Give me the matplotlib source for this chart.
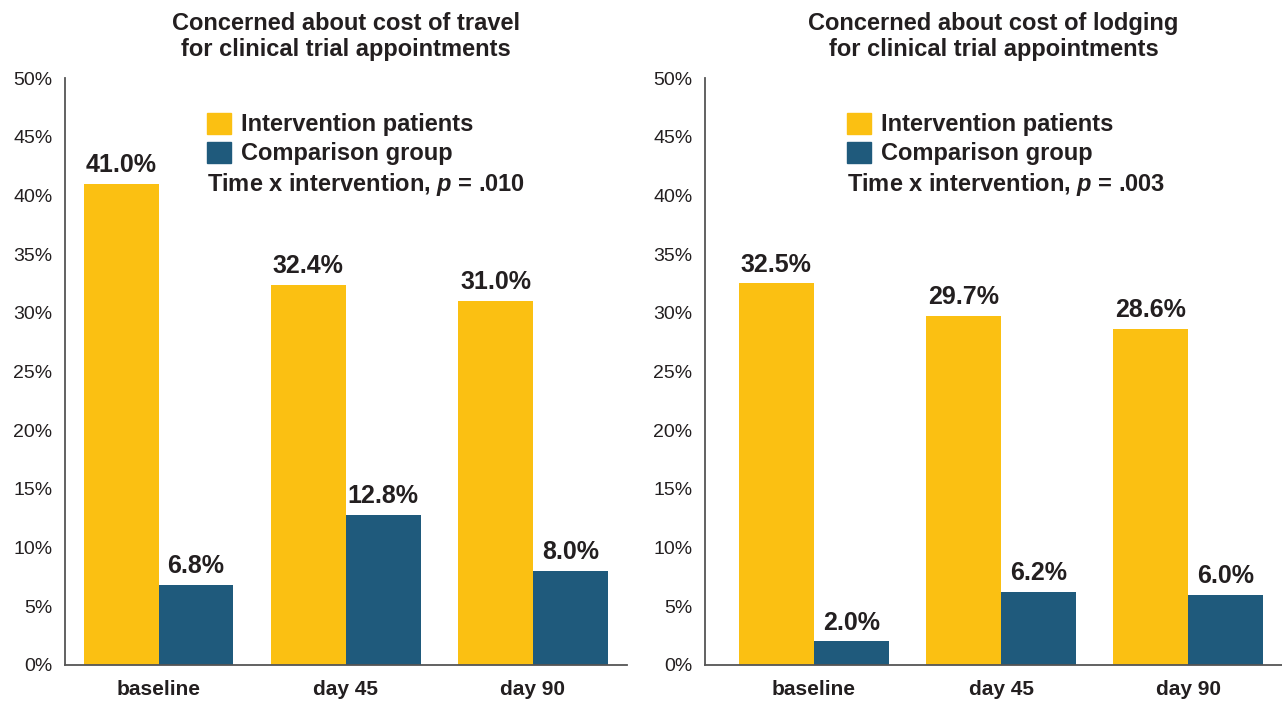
import matplotlib.pyplot as plt
from matplotlib.patches import Patch
import numpy as np

plt.rcParams['font.family'] = ['Liberation Sans', 'DejaVu Sans']
plt.rcParams['mathtext.fontset'] = 'custom'
plt.rcParams['mathtext.it'] = 'Liberation Sans:bold:italic'
plt.rcParams['mathtext.rm'] = 'Liberation Sans:bold'

# data
timepoints = ['baseline', 'day 45', 'day 90']
travel_intervention = [41.0, 32.4, 31.0]
travel_comparison = [6.8, 12.8, 8.0]
lodging_intervention = [32.5, 29.7, 28.6]
lodging_comparison = [2.0, 6.2, 6.0]
titles = ['Concerned about cost of travel\nfor clinical trial appointments',
          'Concerned about cost of lodging\nfor clinical trial appointments']
p_texts = ['Time x intervention, $p$ = .010', 'Time x intervention, $p$ = .003']
yticks = [0, 5, 10, 15, 20, 25, 30, 35, 40, 45, 50]

yellow = '#FBC012'
blue = '#1F5A7C'
dark = '#231F20'

fig = plt.figure(figsize=(12.82, 7.01), dpi=100)
ax1 = fig.add_axes([0.0507, 0.0514, 0.438, 0.8373])
ax2 = fig.add_axes([0.550, 0.0514, 0.450, 0.8373])

panels = [
    (ax1, travel_intervention, travel_comparison, (-0.5, 2.5), 0.253),
    (ax2, lodging_intervention, lodging_comparison, (-0.58, 2.5), 0.246),
]

x = np.arange(len(timepoints))
w = 0.4
for i, (ax, inter, comp, xl, legx) in enumerate(panels):
    b1 = ax.bar(x - w / 2, inter, w, color=yellow)
    b2 = ax.bar(x + w / 2, comp, w, color=blue)
    for bars in (b1, b2):
        ax.bar_label(bars, labels=[f'{v:.1f}%' for v in bars.datavalues],
                     padding=5, fontsize=18, fontweight='bold', color=dark)
    ax.set_xlim(*xl)
    ax.set_ylim(0, 50)
    ax.set_yticks(yticks)
    ax.set_yticklabels([f'{t}%' for t in yticks], fontsize=14, color=dark)
    ax.set_xticks(x)
    ax.set_xticklabels(timepoints, fontsize=15, fontweight='bold', color=dark)
    ax.tick_params(axis='y', length=0, pad=9)
    ax.tick_params(axis='x', length=0, pad=11)
    for s in ['top', 'right']:
        ax.spines[s].set_visible(False)
    for s in ['left', 'bottom']:
        ax.spines[s].set_color('#555555')
        ax.spines[s].set_linewidth(1.3)
    ax.set_title(titles[i], fontsize=17, fontweight='bold', color=dark, pad=16,
                 linespacing=1.15)

    handles = [Patch(color=yellow, label='Intervention patients'),
               Patch(color=blue, label='Comparison group')]
    leg = ax.legend(handles=handles, loc='upper left', bbox_to_anchor=(legx, 0.941),
                    frameon=False, fontsize=17, handlelength=1.0, handleheight=1.0,
                    handletextpad=0.42, labelspacing=0.23, borderpad=0, borderaxespad=0)
    for t in leg.get_texts():
        t.set_fontweight('bold')
        t.set_color(dark)
    ax.text(legx, 0.8194, p_texts[i], transform=ax.transAxes, fontsize=17,
            fontweight='bold', color=dark, va='center', ha='left')

fig.savefig('out.png', dpi=100)
